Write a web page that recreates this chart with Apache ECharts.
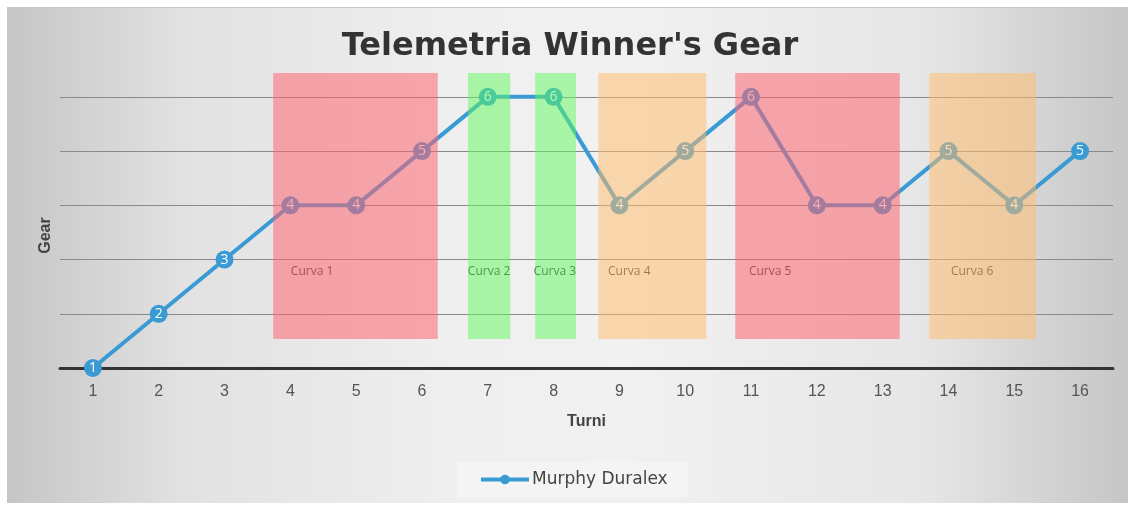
<!DOCTYPE html>
<html>
<head>
<meta charset="utf-8">
<script src="https://cdn.jsdelivr.net/npm/echarts@6/dist/echarts.min.js"></script>
<style>
html,body{margin:0;padding:0;background:#fff;}
#bg{position:absolute;left:7px;top:7px;width:1121px;height:495px;
background:linear-gradient(to right,#c6c6c6 0%,#e2e2e2 16%,#efefef 40%,#f1f1f1 55%,#e6e6e6 82%,#c6c6c6 100%);
border-top:1px solid #c8c8c8;}
#chart{position:absolute;left:0;top:0;width:1135px;height:507px;}
</style>
</head>
<body>
<div id="bg"></div>
<div id="chart"></div>
<script>
const categories = ['1','2','3','4','5','6','7','8','9','10','11','12','13','14','15','16'];
const gearValues = [1,2,3,4,4,5,6,6,4,5,6,4,4,5,4,5];
const curveNames = ['Curva 1','Curva 2','Curva 3','Curva 4','Curva 5','Curva 6'];
const curveStart = [3.74, 6.70, 7.72, 8.68, 10.76, 13.71];
const curveEnd   = [6.24, 7.34, 8.34, 10.32, 13.26, 15.33];
const curveKind  = ['red','green','green','orange','red','orange'];
const curveLabelX = [4.33, 7.02, 8.02, 9.15, 11.29, 14.36];
const curveLabelY = 2.77;
const areaBottom = 1.535;
const areaTop = 6.44;

const kindColor = {
  red: 'rgba(255,100,112,0.54)',
  green: 'rgba(95,250,95,0.5)',
  orange: 'rgba(255,188,108,0.52)'
};

const chart = echarts.init(document.getElementById('chart'), null, {renderer:'canvas'});
const areaData = curveNames.map((n,i)=>[
  {xAxis: curveStart[i], yAxis: areaBottom, itemStyle:{color: kindColor[curveKind[i]]}},
  {xAxis: curveEnd[i], yAxis: areaTop}
]);
const labelData = curveNames.map((n,i)=>({name:n, value:[curveLabelX[i], curveLabelY]}));

chart.setOption({
  backgroundColor: 'transparent',
  animation: false,
  title: {
    text: "Telemetria Winner's Gear",
    left: 565, top: 26,
    textAlign: 'center',
    textStyle: {fontFamily:'DejaVu Sans', fontWeight:'bold', fontSize:32, color:'#333'}
  },
  legend: {
    bottom: 10, left: 457,
    data: ['Murphy Duralex'],
    itemWidth: 48, itemHeight: 12, itemGap: 0,
    backgroundColor: 'rgba(245,245,245,0.85)',
    padding: [9, 20, 9, 22],
    lineStyle: {width: 4},
    textStyle: {fontFamily:'DejaVu Sans', fontSize:17, color:'#444', padding:[0,0,0,-2]}
  },
  grid: {left: 60, right: 22, top: 73, bottom: 139},
  xAxis: [{
    type: 'category',
    data: categories,
    boundaryGap: true,
    name: 'Turni', nameLocation: 'middle', nameGap: 46,
    nameTextStyle: {fontFamily:'Liberation Sans', fontWeight:'bold', fontSize:16, color:'#444'},
    axisLine: {lineStyle:{color:'#333', width:3}},
    axisTick: {show:false},
    axisLabel: {fontFamily:'Liberation Sans', fontSize:16, color:'#555', margin:16},
    splitLine: {show:false}
  },{
    type: 'value', min: 0.5, max: 16.5, show: false
  }],
  yAxis: [{
    type: 'value', min: 1, max: areaTop, interval: 1,
    name: 'Gear', nameLocation: 'middle', nameGap: 6,
    nameTextStyle: {fontFamily:'Liberation Sans', fontWeight:'bold', fontSize:16, color:'#444', padding:[0,30,0,0]},
    axisLine: {show:false}, axisTick:{show:false}, axisLabel:{show:false},
    splitLine: {show:true, showMaxLine:false, lineStyle:{color:'#8a8a8a', width:1}}
  }],
  series: [{
    name: 'Murphy Duralex',
    type: 'line',
    data: gearValues,
    z: 3,
    symbol: 'circle', symbolSize: 18,
    lineStyle: {color:'#3a9ad4', width:4},
    itemStyle: {color:'#3a9ad4'},
    label: {show:true, position:'inside', color:'#fff', fontFamily:'Open Sans', fontSize:14},
    clip: false
  },{
    name: 'labels',
    type: 'scatter',
    xAxisIndex: 1,
    data: labelData,
    z: 2,
    symbolSize: 0,
    label: {show:true, position:'inside', formatter: p=>p.name, color:'#000', fontFamily:'Open Sans', fontSize:12},
    silent: true
  },{
    name: 'curves',
    type: 'line',
    xAxisIndex: 1,
    data: [],
    z: 6,
    silent: true,
    markArea: {silent:true, z: 10, data: areaData, label:{show:false}}
  }]
});
</script>
</body>
</html>
